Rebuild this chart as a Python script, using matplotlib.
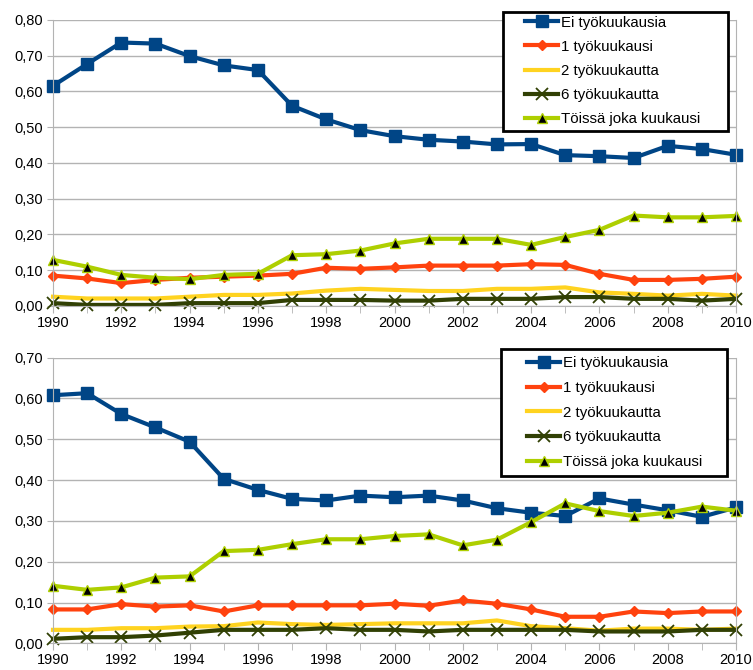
import numpy as np
import matplotlib
matplotlib.use("Agg")
import matplotlib.pyplot as plt
from matplotlib.patches import Rectangle
from matplotlib.ticker import FuncFormatter, MultipleLocator

plt.rcParams['font.family'] = ['Liberation Sans', 'DejaVu Sans']

years = list(range(1990, 2011))
labels = ["Ei työkuukausia", "1 työkuukausi", "2 työkuukautta",
          "6 työkuukautta", "Töissä joka kuukausi"]

# upper chart
top_ei = [0.616, 0.677, 0.737, 0.734, 0.699, 0.673, 0.660, 0.560, 0.522, 0.492,
          0.475, 0.465, 0.460, 0.452, 0.453, 0.422, 0.419, 0.414, 0.448, 0.439, 0.423]
top_1 = [0.085, 0.077, 0.064, 0.073, 0.079, 0.082, 0.085, 0.090, 0.107, 0.104,
         0.108, 0.113, 0.113, 0.113, 0.117, 0.115, 0.090, 0.073, 0.073, 0.076, 0.082]
top_2 = [0.026, 0.021, 0.021, 0.021, 0.026, 0.031, 0.031, 0.035, 0.043, 0.048,
         0.045, 0.042, 0.042, 0.048, 0.048, 0.052, 0.038, 0.034, 0.029, 0.034, 0.029]
top_6 = [0.008, 0.003, 0.003, 0.003, 0.008, 0.008, 0.008, 0.017, 0.017, 0.017,
         0.015, 0.015, 0.020, 0.020, 0.020, 0.025, 0.025, 0.020, 0.020, 0.015, 0.020]
top_all = [0.129, 0.110, 0.087, 0.079, 0.075, 0.087, 0.090, 0.142, 0.145, 0.155,
           0.175, 0.188, 0.188, 0.188, 0.171, 0.193, 0.213, 0.253, 0.248, 0.248, 0.252]

# lower chart
bot_ei = [0.608, 0.613, 0.562, 0.529, 0.494, 0.403, 0.376, 0.354, 0.350, 0.362,
          0.358, 0.362, 0.350, 0.331, 0.320, 0.312, 0.355, 0.340, 0.326, 0.310, 0.333]
bot_1 = [0.083, 0.083, 0.096, 0.090, 0.093, 0.078, 0.093, 0.093, 0.093, 0.093,
         0.097, 0.092, 0.105, 0.097, 0.083, 0.065, 0.065, 0.078, 0.074, 0.078, 0.078]
bot_2 = [0.033, 0.033, 0.037, 0.037, 0.041, 0.042, 0.051, 0.047, 0.045, 0.047,
         0.049, 0.049, 0.049, 0.056, 0.042, 0.037, 0.031, 0.036, 0.036, 0.033, 0.036]
bot_6 = [0.011, 0.015, 0.015, 0.019, 0.026, 0.033, 0.033, 0.033, 0.037, 0.033,
         0.033, 0.029, 0.033, 0.033, 0.033, 0.033, 0.029, 0.029, 0.029, 0.033, 0.033]
bot_all = [0.141, 0.131, 0.137, 0.161, 0.164, 0.226, 0.229, 0.243, 0.255, 0.255,
           0.263, 0.267, 0.240, 0.254, 0.297, 0.343, 0.324, 0.312, 0.320, 0.335, 0.325]

styles = [
    dict(color='#004586', marker='s', markersize=8),
    dict(color='#ff420e', marker='D', markersize=5.5),
    dict(color='#ffd320', marker=None),
    dict(color='#314004', marker='x', markersize=8, markeredgewidth=1.3),
    dict(color='#aecf00', marker='^', markersize=7, markerfacecolor='black',
         markeredgecolor='#aecf00', markeredgewidth=1),
]

fig = plt.figure(figsize=(7.53, 6.70), dpi=100)
W, H = 753, 670


def draw(rect, series, ymax, box, leg_xy, spacing):
    ax = fig.add_axes(rect)
    for vals, lab, st in zip(series, labels, styles):
        ax.plot(years, vals, lw=3, label=lab, **st)
    ax.set_xlim(1990, 2010)
    ax.set_ylim(0, ymax)
    ax.xaxis.set_major_locator(MultipleLocator(2))
    ax.xaxis.set_minor_locator(MultipleLocator(1))
    ax.yaxis.set_major_locator(MultipleLocator(0.1))
    ax.yaxis.set_major_formatter(FuncFormatter(lambda v, p: f"{v:.2f}".replace('.', ',')))
    ax.grid(axis='y', color='#b3b3b3', lw=1)
    ax.set_axisbelow(True)
    for s in ['left', 'right', 'bottom']:
        ax.spines[s].set_color('#b3b3b3')
    ax.spines['top'].set_visible(False)
    ax.tick_params(axis='both', which='both', color='#b3b3b3', labelsize=10.5,
                   labelcolor='black')
    ax.tick_params(axis='x', which='both', length=5, pad=2)
    ax.tick_params(axis='y', length=4, pad=3)
    for ln in ax.get_lines():
        ln.set_clip_on(False)

    # legend box drawn separately so the padding matches
    x0, y0, x1, y1 = box
    fig.patches.append(Rectangle((x0 / W, 1 - y1 / H), (x1 - x0) / W, (y1 - y0) / H,
                                 transform=fig.transFigure, facecolor='white',
                                 edgecolor='black', lw=2, zorder=4))
    h, l = ax.get_legend_handles_labels()
    fig.legend(h, l, loc='upper left', bbox_to_anchor=(leg_xy[0] / W, 1 - leg_xy[1] / H),
               bbox_transform=fig.transFigure, frameon=False, borderpad=0,
               borderaxespad=0, fontsize=10.8, handlelength=2.2, handletextpad=0.2,
               labelspacing=spacing)
    return ax


draw([53 / W, 1 - 306 / H, 683 / W, 286 / H],
     [top_ei, top_1, top_2, top_6, top_all], 0.8,
     (503, 12, 728, 131), (525, 15.5), 0.68)
draw([53 / W, 1 - 643.3 / H, 683 / W, 285.6 / H],
     [bot_ei, bot_1, bot_2, bot_6, bot_all], 0.7,
     (501, 349, 727, 476), (527, 356), 0.72)

fig.savefig("out.png", dpi=100)
